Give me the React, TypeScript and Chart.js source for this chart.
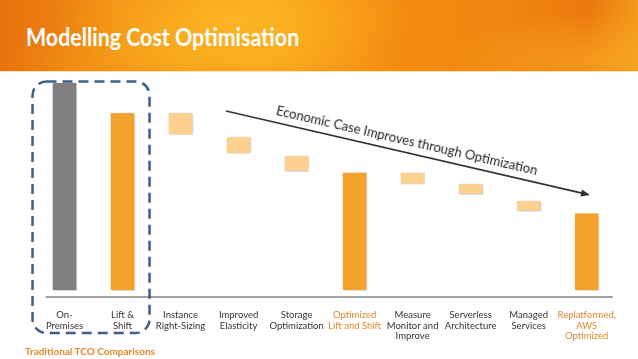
import React, { useEffect, useRef } from 'react';
import { Chart, registerables } from 'chart.js';
Chart.register(...registerables);

// ---- data ----
const categories: string[][] = [
  ['On-', 'Premises'],
  ['Lift &', 'Shift'],
  ['Instance', 'Right-Sizing'],
  ['Improved', 'Elasticity'],
  ['Storage', 'Optimization'],
  ['Optimized', 'Lift and Shift'],
  ['Measure', 'Monitor and', 'Improve'],
  ['Serverless', 'Architecture'],
  ['Managed', 'Services'],
  ['Replatformed,', 'AWS', 'Optimized'],
];
const barStart = [0, 0, 74.5, 65.5, 57, 0, 51, 46, 38, 0];
const barEnd = [100, 85.5, 85.5, 74, 65, 57, 57, 51.5, 43.5, 37.5];
const barKinds = ['current', 'lift', 'saving', 'saving', 'saving', 'optimized', 'saving', 'saving', 'saving', 'optimized'];

const title = 'Modelling Cost Optimisation';
const arrowLabel = 'Economic Case Improves through Optimization';
const groupLabel = 'Traditional TCO Comparisons';

// ---- styles ----
const kindColor: Record<string, string> = {
  current: '#7f7f7f',
  lift: '#f5a22d',
  saving: '#fdd08f',
  optimized: '#f5a22d',
};
const ORANGE_TEXT = '#e4882c';
const TEXT = '#333333';

const overlayPlugin = {
  id: 'overlay',
  beforeDatasetsDraw(chart: any) {
    const ctx = chart.ctx;
    ctx.save();
    ctx.shadowColor = 'rgba(0,0,0,0.28)';
    ctx.shadowBlur = 3;
    ctx.shadowOffsetX = 1;
    ctx.shadowOffsetY = 1;
  },
  afterDatasetsDraw(chart: any) {
    chart.ctx.restore();
  },
  afterDraw(chart: any) {
    const ctx = chart.ctx;
    const area = chart.chartArea;
    // axis line
    ctx.save();
    ctx.strokeStyle = '#a3a3a3';
    ctx.lineWidth = 2;
    ctx.beginPath();
    ctx.moveTo(area.left + 10, area.bottom);
    ctx.lineTo(area.right - 3, area.bottom);
    ctx.stroke();
    ctx.restore();

    // dashed rounded group box
    const xs = chart.scales.x;
    const ys = chart.scales.y;
    const bl = xs.getPixelForValue(0) - 32;
    const br = xs.getPixelForValue(1) + 27;
    const bt = ys.getPixelForValue(100) - 0.5;
    const bb = 333;
    const r = 14;
    ctx.save();
    ctx.strokeStyle = '#3e5f86';
    ctx.lineWidth = 2.5;
    ctx.setLineDash([10, 6]);
    ctx.beginPath();
    ctx.moveTo(bl + r, bt);
    ctx.lineTo(br - r, bt);
    ctx.arcTo(br, bt, br, bt + r, r);
    ctx.lineTo(br, bb - r);
    ctx.arcTo(br, bb, br - r, bb, r);
    ctx.lineTo(bl + r, bb);
    ctx.arcTo(bl, bb, bl, bb - r, r);
    ctx.lineTo(bl, bt + r);
    ctx.arcTo(bl, bt, bl + r, bt, r);
    ctx.closePath();
    ctx.stroke();
    ctx.restore();

    // trend arrow
    const x1 = 226, y1 = 111, x2 = 590, y2 = 195;
    const ang = Math.atan2(y2 - y1, x2 - x1);
    ctx.save();
    ctx.strokeStyle = '#333';
    ctx.fillStyle = '#333';
    ctx.lineWidth = 1.6;
    ctx.beginPath();
    ctx.moveTo(x1, y1);
    ctx.lineTo(x2 - 6 * Math.cos(ang), y2 - 6 * Math.sin(ang));
    ctx.stroke();
    ctx.translate(x2, y2);
    ctx.rotate(ang);
    ctx.beginPath();
    ctx.moveTo(0, 0);
    ctx.lineTo(-9, -3.5);
    ctx.lineTo(-9, 3.5);
    ctx.closePath();
    ctx.fill();
    ctx.restore();
  },
};

export default function App() {
  const ref = useRef<HTMLCanvasElement>(null);
  useEffect(() => {
    document.body.style.margin = '0';
    const chart = new Chart(ref.current!, {
      type: 'bar',
      data: {
        labels: categories,
        datasets: [
          {
            data: barStart.map((s, i) => [s, barEnd[i]]),
            backgroundColor: barKinds.map((k) => kindColor[k]),
            borderColor: '#ffffff',
            borderWidth: 1,
            borderSkipped: false,
            categoryPercentage: 1,
            barPercentage: 0.44,
          },
        ],
      },
      options: {
        responsive: false,
        animation: false,
        devicePixelRatio: 1,
        layout: { padding: { left: 35.5, right: 22.3, top: 82, bottom: 0 } },
        plugins: { legend: { display: false }, tooltip: { enabled: false } },
        scales: {
          x: {
            grid: { display: false, drawTicks: false },
            border: { display: false },
            afterFit: (scale: any) => {
              scale.height = 62;
            },
            ticks: {
              padding: 13,
              maxRotation: 0,
              autoSkip: false,
              font: { family: 'Lato', size: 9.5, lineHeight: 1.1 },
              color: (c: any) => (barKinds[c.index] === 'optimized' ? ORANGE_TEXT : TEXT),
            },
          },
          y: { display: false, min: -2.875, max: 100 },
        },
      },
      plugins: [overlayPlugin],
    });
    return () => chart.destroy();
  }, []);

  return (
    <div style={{ position: 'fixed', left: 0, top: 0, width: 638, height: 359, overflow: 'hidden', background: '#fff' }}>
      <canvas ref={ref} width={638} height={359} style={{ position: 'absolute', left: 0, top: 0, width: 638, height: 359 }} />
      <div
        style={{
          position: 'absolute', left: 0, top: 0, width: 638, height: 71,
          background:
            'radial-gradient(ellipse 180px 60px at 230px 20px, rgba(255,190,40,0.7), rgba(255,190,40,0) 100%),' +
            'radial-gradient(ellipse 200px 40px at 200px 60px, rgba(250,175,30,0.6), rgba(250,175,30,0) 100%),' +
            'radial-gradient(ellipse 150px 50px at 600px 60px, rgba(250,175,40,0.6), rgba(250,175,40,0) 100%),' +
            'linear-gradient(90deg, #e8720c 0%, #f39214 22%, #f8a41a 42%, #f48c10 62%, #f08510 80%, #ec780c 92%, #f29a1c 100%)',
          borderBottom: '1px solid #fde3b8',
        }}
      />
      <div
        style={{
          position: 'absolute', left: 26, top: 22, color: '#fff', fontFamily: 'Lato', fontWeight: 700,
          fontSize: 24, lineHeight: '30px', whiteSpace: 'nowrap', transform: 'scaleX(0.89)', transformOrigin: 'left center',
        }}
      >
        {title}
      </div>
      <div
        style={{
          position: 'absolute', left: 406.5, top: 140, transform: 'translate(-50%, -50%) rotate(13deg)',
          fontFamily: 'Lato', fontSize: 13, color: '#222', whiteSpace: 'nowrap', lineHeight: '16px',
        }}
      >
        {arrowLabel}
      </div>
      <div
        style={{
          position: 'absolute', left: 25, top: 345, fontFamily: 'Lato', fontWeight: 700, fontSize: 10,
          color: ORANGE_TEXT, whiteSpace: 'nowrap', lineHeight: '12px',
        }}
      >
        {groupLabel}
      </div>
    </div>
  );
}
